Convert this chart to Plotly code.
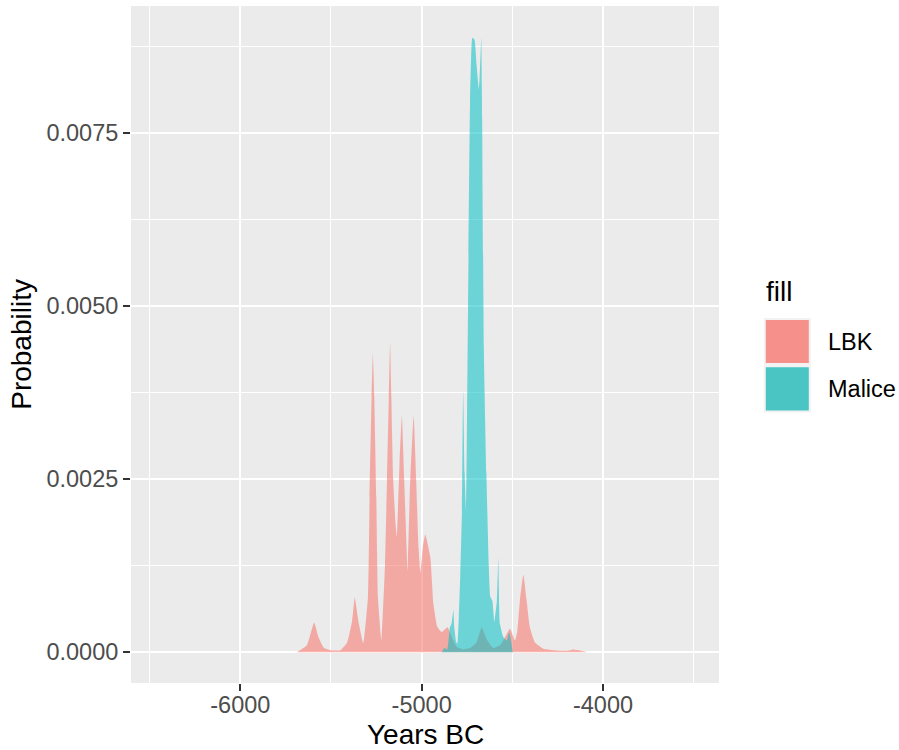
import plotly.graph_objects as go

# ---- data ----
lbk_years = [-5689, -5633, -5593, -5569, -5541, -5504, -5448, -5411, -5383, -5369,
             -5346, -5322, -5296, -5287, -5276, -5269, -5261, -5250, -5241, -5222,
             -5202, -5191, -5181, -5174, -5167, -5157, -5144, -5137, -5122, -5109,
             -5096, -5083, -5078, -5063, -5044, -5030, -5017, -5007, -4994, -4980,
             -4952, -4935, -4914, -4890, -4857, -4829, -4807, -4770, -4733, -4697,
             -4669, -4642, -4605, -4568, -4550, -4513, -4485, -4472, -4458, -4439,
             -4421, -4403, -4375, -4329, -4274, -4200, -4164, -4118, -4090]
lbk_prob = [0.0, 0.0001, 0.00043, 0.00022, 0.00007, 0.00003, 0.00003, 0.00014, 0.00046, 0.00079,
            0.00041, 0.00013, 0.0008, 0.00224, 0.00368, 0.00431, 0.00368, 0.00224, 0.0008, 0.00017,
            0.00127, 0.0025, 0.00368, 0.00447, 0.00368, 0.0025, 0.00185, 0.00166, 0.00272, 0.00341,
            0.00248, 0.00151, 0.00117, 0.00248, 0.00341, 0.00248, 0.00151, 0.00115, 0.00151, 0.0017,
            0.00137, 0.0007, 0.00037, 0.00029, 0.00036, 0.00019, 0.00008, 0.00004, 0.00006, 0.00014,
            0.00036, 0.00019, 0.00006, 0.0001, 0.00017, 0.00034, 0.00017, 0.00031, 0.00075, 0.00112,
            0.00075, 0.00036, 0.00014, 0.00005, 0.00003, 0.00002, 0.00004, 0.00002, 0.0]

malice_years = [-4890, -4874, -4859, -4844, -4835, -4825, -4820, -4810, -4803, -4795,
                -4787, -4778, -4771, -4763, -4755, -4744, -4733, -4725, -4720, -4708,
                -4697, -4684, -4674, -4671, -4668, -4666, -4657, -4643, -4630, -4621,
                -4610, -4599, -4585, -4577, -4568, -4550, -4531, -4517, -4504, -4498]
malice_prob = [0.0, 0.00006, 0.00004, 0.00036, 0.00041, 0.00061, 0.00036, 0.00015, 0.00012, 0.0005,
               0.0011, 0.002, 0.00378, 0.0026, 0.00204, 0.005, 0.00795, 0.00875, 0.00887, 0.00884,
               0.00848, 0.00813, 0.0087, 0.00887, 0.0082, 0.0077, 0.0044, 0.0026, 0.00127, 0.0008,
               0.00074, 0.00044, 0.00074, 0.00136, 0.00041, 0.00022, 0.00017, 0.00029, 0.00012, 0.0]

series_names = ["LBK", "Malice"]
x_tickvals = [-6000, -5000, -4000]
x_ticktext = ["-6000", "-5000", "-4000"]
y_tickvals = [0.0, 0.0025, 0.005, 0.0075]
y_ticktext = ["0.0000", "0.0025", "0.0050", "0.0075"]

# ---- style ----
FONT = "Liberation Sans, Arial, sans-serif"
W, H = 899, 750
PL, PR, PT, PB = 130.7, 718.7, 6.0, 682.7   # panel in pixels
fill_cols = ["rgba(248,118,109,0.56)", "rgba(0,191,196,0.54)"]
key_cols = ["#F5918A", "#4BC4C4"]

fig = go.Figure()
for name, xs, ys, col in [(series_names[0], lbk_years, lbk_prob, fill_cols[0]),
                          (series_names[1], malice_years, malice_prob, fill_cols[1])]:
    fig.add_trace(go.Scatter(x=xs, y=ys, name=name, mode="lines", fill="tozeroy",
                             fillcolor=col, line=dict(width=0, color=col, shape="spline", smoothing=0.4),
                             showlegend=False, hoverinfo="x+y+name"))

def px2paper_x(px):
    return (px - PL) / (PR - PL)

def px2paper_y(py):
    return (PB - py) / (PB - PT)

axis_common = dict(showline=False, zeroline=False, ticks="outside", ticklen=7, tickwidth=2,
                   tickcolor="#333333", gridcolor="white", gridwidth=2,
                   tickfont=dict(family=FONT, size=23.5, color="#4D4D4D"))

fig.update_xaxes(range=[-6603, -3360], tickvals=x_tickvals, ticktext=x_ticktext,
                 ticklabelstandoff=-6,
                 minor=dict(dtick=500, tick0=-6000, gridcolor="white", gridwidth=1, ticks=""),
                 **axis_common)
fig.update_yaxes(range=[-0.000444, 0.00933], tickvals=y_tickvals, ticktext=y_ticktext,
                 minor=dict(dtick=0.00125, tick0=0, gridcolor="white", gridwidth=1, ticks=""),
                 **axis_common)

shapes = []
annotations = []
# axis titles
annotations.append(dict(text="Years BC", xref="paper", yref="paper",
                        x=px2paper_x((PL + PR) / 2), y=px2paper_y(734), xanchor="center", yanchor="middle",
                        showarrow=False, font=dict(family=FONT, size=28, color="black")))
annotations.append(dict(text="Probability", xref="paper", yref="paper", textangle=-90,
                        x=px2paper_x(21), y=px2paper_y((PT + PB) / 2), xanchor="center", yanchor="middle",
                        showarrow=False, font=dict(family=FONT, size=28, color="black")))
# legend
annotations.append(dict(text="fill", xref="paper", yref="paper",
                        x=px2paper_x(764), y=px2paper_y(291), xanchor="left", yanchor="middle",
                        showarrow=False, font=dict(family=FONT, size=28, color="black")))
key_tops = [319.3, 366.7]
for name, kc, top in zip(series_names, key_cols, key_tops):
    shapes.append(dict(type="rect", xref="paper", yref="paper",
                       x0=px2paper_x(763.5), x1=px2paper_x(810.5),
                       y0=px2paper_y(top - 1.5), y1=px2paper_y(top + 45.5),
                       fillcolor="#F2F2F2", line=dict(width=0), layer="above"))
    shapes.append(dict(type="rect", xref="paper", yref="paper",
                       x0=px2paper_x(765.5), x1=px2paper_x(808.5),
                       y0=px2paper_y(top + 0.5), y1=px2paper_y(top + 43.5),
                       fillcolor=kc, line=dict(width=0), layer="above"))
    annotations.append(dict(text=name, xref="paper", yref="paper",
                            x=px2paper_x(826), y=px2paper_y(top + 22.5), xanchor="left", yanchor="middle",
                            showarrow=False, font=dict(family=FONT, size=23.5, color="black")))

fig.update_layout(width=W, height=H, autosize=False,
                  margin=dict(l=PL, r=W - PR, t=PT, b=H - PB, pad=0, autoexpand=False),
                  plot_bgcolor="#EBEBEB", paper_bgcolor="white",
                  shapes=shapes, annotations=annotations, showlegend=False,
                  font=dict(family=FONT))

fig.write_html("out.html")
